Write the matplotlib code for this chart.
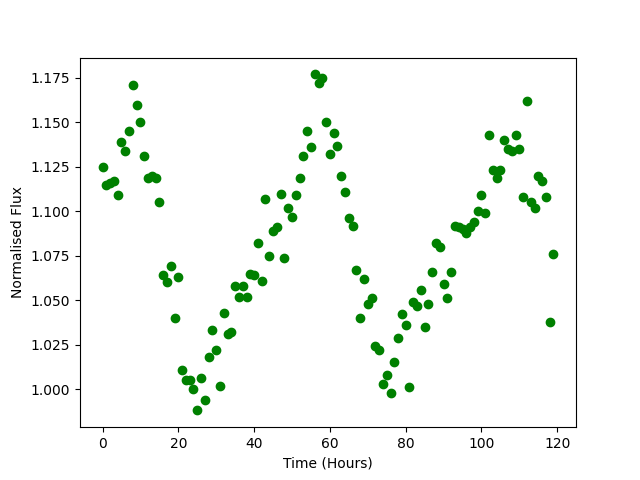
import numpy as np
import matplotlib
matplotlib.use("Agg")
import matplotlib.pyplot as plt

time_hours = np.arange(120)
flux = [
    1.125, 1.115, 1.116, 1.117, 1.109, 1.139, 1.134, 1.145, 1.171, 1.160,
    1.150, 1.131, 1.119, 1.120, 1.119, 1.105, 1.064, 1.060, 1.069, 1.040,
    1.063, 1.011, 1.005, 1.005, 1.000, 0.988, 1.006, 0.994, 1.018, 1.033,
    1.022, 1.002, 1.043, 1.031, 1.032, 1.058, 1.052, 1.058, 1.052, 1.065,
    1.064, 1.082, 1.061, 1.107, 1.075, 1.089, 1.091, 1.110, 1.074, 1.102,
    1.097, 1.109, 1.119, 1.131, 1.145, 1.136, 1.177, 1.172, 1.175, 1.150,
    1.132, 1.144, 1.137, 1.120, 1.111, 1.096, 1.092, 1.067, 1.040, 1.062,
    1.048, 1.051, 1.024, 1.022, 1.003, 1.008, 0.998, 1.015, 1.029, 1.042,
    1.036, 1.001, 1.049, 1.047, 1.056, 1.035, 1.048, 1.066, 1.082, 1.080,
    1.059, 1.051, 1.066, 1.092, 1.091, 1.090, 1.088, 1.091, 1.094, 1.100,
    1.109, 1.099, 1.143, 1.123, 1.119, 1.123, 1.140, 1.135, 1.134, 1.143,
    1.135, 1.108, 1.162, 1.105, 1.102, 1.120, 1.117, 1.108, 1.038, 1.076,
]

plt.figure()
plt.plot(time_hours, flux, 'o', color='green')
plt.xlabel("Time (Hours)")
plt.ylabel("Normalised Flux")

plt.savefig('out.png')
